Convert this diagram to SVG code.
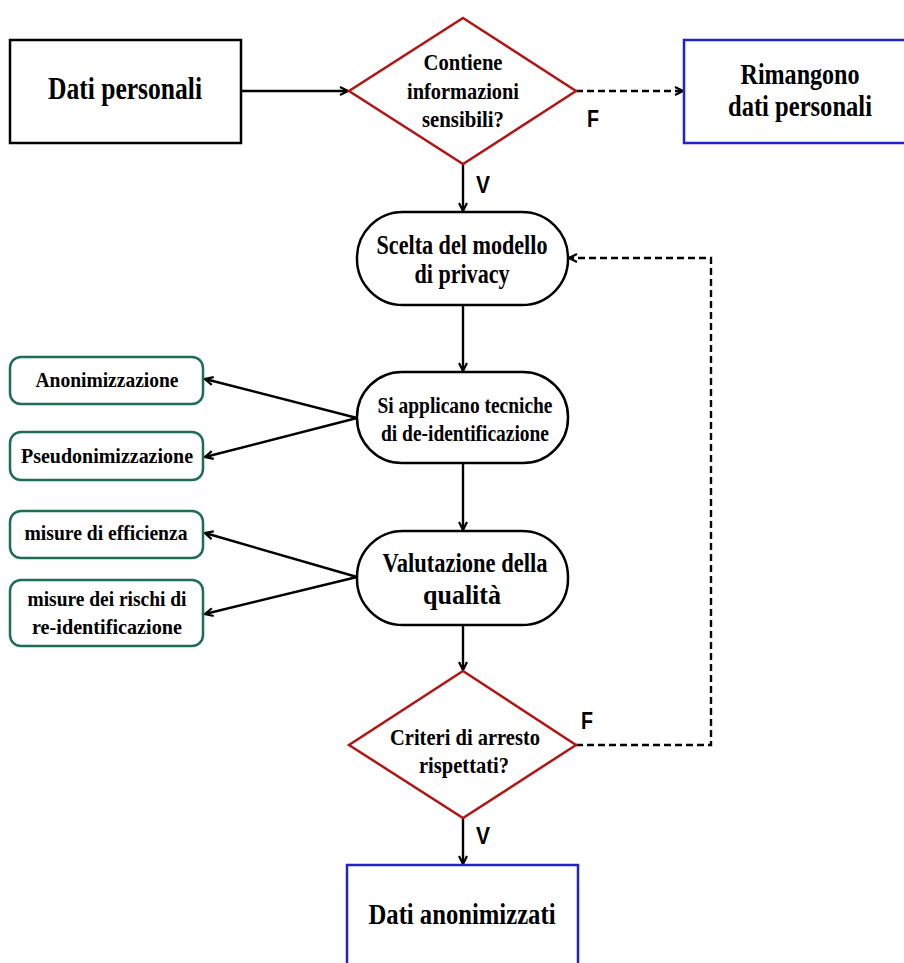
<svg xmlns="http://www.w3.org/2000/svg" width="904" height="963" viewBox="0 0 904 963">
<style>
.t{font-family:"Liberation Serif","Times New Roman",serif;font-weight:bold;fill:#000;text-anchor:middle}
.lbl{font-family:"Liberation Sans",Arial,sans-serif;font-weight:bold;font-size:24px;fill:#000}
.box{fill:#fff;stroke:#000;stroke-width:2.5}
.blue{fill:#fff;stroke:#2222CC;stroke-width:2.5}
.dia{fill:#fff;stroke:#B41414;stroke-width:2.5}
.pill{fill:#fff;stroke:#000;stroke-width:2.5}
.grn{fill:#fff;stroke:#1E6E55;stroke-width:2.5}
.c{fill:none;stroke:#000;stroke-width:2.4}
.d{fill:none;stroke:#000;stroke-width:2.4;stroke-dasharray:7 4}
</style>
<defs>
<marker id="ah" viewBox="0 0 10 10" refX="9" refY="5" markerWidth="10" markerHeight="10" markerUnits="userSpaceOnUse" orient="auto">
<path d="M1,1 L9,5 L1,9" fill="none" stroke="#000" stroke-width="2.2"/>
</marker>
</defs>
<rect width="904" height="963" fill="#fff"/>
<g id="connectors">
<path class="c" d="M241,91 L348,91" marker-end="url(#ah)"/>
<path class="d" d="M576,91 L683,91" marker-end="url(#ah)"/>
<path class="c" d="M463,164 L463,211" marker-end="url(#ah)"/>
<path class="c" d="M463,305 L463,371" marker-end="url(#ah)"/>
<path class="c" d="M357,418 L205,379" marker-end="url(#ah)"/>
<path class="c" d="M357,418 L205,457" marker-end="url(#ah)"/>
<path class="c" d="M463,463 L463,530" marker-end="url(#ah)"/>
<path class="c" d="M357,577 L205,533" marker-end="url(#ah)"/>
<path class="c" d="M357,577 L205,614" marker-end="url(#ah)"/>
<path class="c" d="M463,625 L463,670" marker-end="url(#ah)"/>
<path class="d" d="M576,745 L711,745 L711,258 L569,258" marker-end="url(#ah)"/>
<path class="c" d="M463,818 L463,864" marker-end="url(#ah)"/>
<text class="lbl" x="587" y="127" textLength="12" lengthAdjust="spacingAndGlyphs">F</text>
<text class="lbl" x="476" y="193" textLength="14" lengthAdjust="spacingAndGlyphs">V</text>
<text class="lbl" x="581" y="729" textLength="12" lengthAdjust="spacingAndGlyphs">F</text>
<text class="lbl" x="476" y="844" textLength="14" lengthAdjust="spacingAndGlyphs">V</text>
</g>
<g id="dati-personali">
<rect class="box" x="10" y="40" width="231" height="103"/>
<text class="t" x="125" y="99" font-size="31" textLength="154" lengthAdjust="spacingAndGlyphs">Dati personali</text>
</g>
<g id="contiene">
<polygon class="dia" points="463,18 576,91 463,164 349,91"/>
<text class="t" x="463" y="70" font-size="23" textLength="79" lengthAdjust="spacingAndGlyphs">Contiene</text>
<text class="t" x="463" y="99" font-size="23" textLength="112" lengthAdjust="spacingAndGlyphs">informazioni</text>
<text class="t" x="463" y="127" font-size="23" textLength="82" lengthAdjust="spacingAndGlyphs">sensibili?</text>
</g>
<g id="rimangono">
<rect class="blue" x="684" y="40" width="230" height="103"/>
<text class="t" x="800" y="84" font-size="29" textLength="119" lengthAdjust="spacingAndGlyphs">Rimangono</text>
<text class="t" x="800" y="116" font-size="29" textLength="144" lengthAdjust="spacingAndGlyphs">dati personali</text>
</g>
<g id="scelta">
<rect class="pill" x="357" y="212" width="211" height="93" rx="46" ry="46"/>
<text class="t" x="462" y="254" font-size="27" textLength="171" lengthAdjust="spacingAndGlyphs">Scelta del modello</text>
<text class="t" x="462" y="283" font-size="27" textLength="95" lengthAdjust="spacingAndGlyphs">di privacy</text>
</g>
<g id="applicano">
<rect class="pill" x="357" y="372" width="211" height="91" rx="45" ry="45"/>
<text class="t" x="465" y="413" font-size="23" textLength="175" lengthAdjust="spacingAndGlyphs">Si applicano tecniche</text>
<text class="t" x="465" y="441" font-size="23" textLength="168" lengthAdjust="spacingAndGlyphs">di de-identificazione</text>
</g>
<g id="anonimizzazione">
<rect class="grn" x="10" y="357" width="193" height="47" rx="11" ry="11"/>
<text class="t" x="107" y="387" font-size="22" textLength="143" lengthAdjust="spacingAndGlyphs">Anonimizzazione</text>
</g>
<g id="pseudonimizzazione">
<rect class="grn" x="10" y="432" width="193" height="48" rx="11" ry="11"/>
<text class="t" x="107" y="463" font-size="22" textLength="172" lengthAdjust="spacingAndGlyphs">Pseudonimizzazione</text>
</g>
<g id="valutazione">
<rect class="pill" x="357" y="531" width="211" height="94" rx="46" ry="46"/>
<text class="t" x="465" y="572" font-size="27" textLength="165" lengthAdjust="spacingAndGlyphs">Valutazione della</text>
<text class="t" x="462" y="604" font-size="27" textLength="78" lengthAdjust="spacingAndGlyphs">qualità</text>
</g>
<g id="efficienza">
<rect class="grn" x="10" y="511" width="193" height="47" rx="11" ry="11"/>
<text class="t" x="106" y="540" font-size="22" textLength="163" lengthAdjust="spacingAndGlyphs">misure di efficienza</text>
</g>
<g id="rischi">
<rect class="grn" x="10" y="580" width="193" height="66" rx="11" ry="11"/>
<text class="t" x="107" y="606" font-size="22" textLength="159" lengthAdjust="spacingAndGlyphs">misure dei rischi di</text>
<text class="t" x="107" y="634" font-size="22" textLength="150" lengthAdjust="spacingAndGlyphs">re-identificazione</text>
</g>
<g id="criteri">
<polygon class="dia" points="463,671 576,745 463,818 349,745"/>
<text class="t" x="465" y="745" font-size="23" textLength="150" lengthAdjust="spacingAndGlyphs">Criteri di arresto</text>
<text class="t" x="464" y="773" font-size="23" textLength="90" lengthAdjust="spacingAndGlyphs">rispettati?</text>
</g>
<g id="dati-anonimizzati">
<rect class="blue" x="347" y="865" width="231" height="110"/>
<text class="t" x="462" y="924" font-size="30" textLength="187" lengthAdjust="spacingAndGlyphs">Dati anonimizzati</text>
</g>
</svg>
